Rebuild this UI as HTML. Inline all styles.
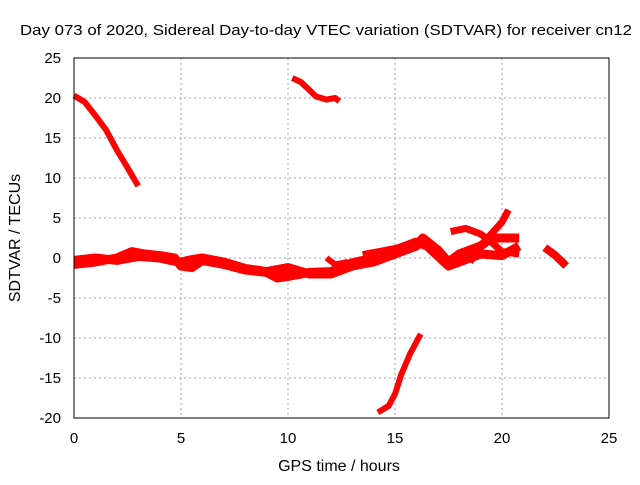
<!DOCTYPE html>
<html><head><meta charset="utf-8"><style>
body{margin:0;background:#fff}
svg{font-family:"Liberation Sans",sans-serif;font-size:15px}
</style></head><body>
<svg width="640" height="480" viewBox="0 0 640 480">
<rect width="640" height="480" fill="#fff"/>
<g id="grid"></g>
<g id="series"></g>
<rect x="74" y="58" width="535" height="360" fill="none" stroke="#000" stroke-width="1"/>
<g id="ticks"></g>
<text x="20" y="35" textLength="612" lengthAdjust="spacingAndGlyphs">Day 073 of 2020, Sidereal Day-to-day VTEC variation (SDTVAR) for receiver cn12</text>
<text x="339" y="471" text-anchor="middle" style="font-size:16px">GPS time / hours</text>
<text transform="translate(20,238) rotate(-90)" text-anchor="middle" style="font-size:16px">SDTVAR / TECUs</text>
</svg>
<script>
const xTicks=[0,5,10,15,20,25];
const yTicks=[25,20,15,10,5,0,-5,-10,-15,-20];
const trackA=[[0,20.3],[0.5,19.5],[1,17.8],[1.5,16],[2,13.5],[2.5,11.3],[3,9]];
const trackB=[[10.2,22.5],[10.6,22],[11,21],[11.3,20.2],[11.8,19.8],[12.2,20],[12.4,19.6]];
const trackC=[[14.2,-19.3],[14.7,-18.5],[15,-17],[15.3,-14.5],[15.7,-12],[16.2,-9.5]];
const band1=[[0,-0.8],[1,-0.5],[2,0],[2.7,0.8],[3.3,0.5],[4,0.3],[4.7,0],[5,-1],[5.5,-1.2],[6,-0.3],[7,-0.8],[8,-1.5],[9,-1.8],[9.5,-2.5],[10,-2.3],[11,-1.8],[12,-1.7],[13,-0.6],[14,0],[15,1],[16,2],[16.5,1.5],[17.5,-1],[18,-0.5],[19,0.5],[20,0.3],[20.8,1.5]];
const band2=[[0,-0.3],[1,0],[2,-0.3],[3,0.2],[4,0],[4.5,-0.3],[5,-0.5],[5.5,-0.2],[6,0],[7,-0.5],[8,-1.3],[9,-1.7],[10,-1.2],[11,-2],[12,-2],[13,-1],[14,-0.5],[15,0.5],[16,1.5],[16.3,2.5],[17,1],[17.5,-0.5],[18,0.5],[19,1.5],[19.5,2.5],[20.5,2.5],[20.8,2.5]];
const band3=[[13.5,0.3],[14.5,0.8],[15.5,1.3],[16,1.8]];
const trackD=[[11.8,0],[12.2,-0.8],[12.8,-0.5]];
const trackE=[[17.6,3.3],[18.3,3.7],[19,3],[19.5,2],[20,0.8],[20.8,0.5]];
const trackF=[[18.5,-0.5],[19,1.5],[19.5,3],[20,4.5],[20.3,6]];
const trackG=[[22,1.3],[22.5,0.3],[23,-1]];
const NS='http://www.w3.org/2000/svg';
const X=v=>74+v*535/25, Y=v=>258-v*8;
const grid=document.getElementById('grid'), ticks=document.getElementById('ticks'), ser=document.getElementById('series');
function mk(tag,a,p){const e=document.createElementNS(NS,tag);for(const k in a)e.setAttribute(k,a[k]);p.appendChild(e);return e;}
xTicks.forEach(t=>{
  const l=mk('line',{x1:X(t),x2:X(t),y1:58,y2:418,stroke:'#a0a0a0','stroke-dasharray':'2,3'},grid);
  
  
  const tx=mk('text',{x:X(t),y:443,'text-anchor':'middle'},ticks);tx.textContent=t;
  
  
});
yTicks.forEach(t=>{
  const l=mk('line',{x1:74,x2:609,y1:Y(t),y2:Y(t),stroke:'#a0a0a0','stroke-dasharray':'2,3'},grid);
  
  
  const tx=mk('text',{x:61,y:Y(t)+5,'text-anchor':'end'},ticks);tx.textContent=t;
  
  
});
[[trackA,6],[trackB,6],[trackC,6],[band1,9],[band2,9],[band3,9],[trackD,6],[trackE,7],[trackF,7],[trackG,8]].forEach(([tr,w])=>{
  const p=mk('polyline',{points:tr.map(d=>X(d[0])+','+Y(d[1])).join(' '),fill:'none',stroke:'#ff0000','stroke-width':w,'stroke-linejoin':'round'},ser);
  
  
});
</script>
</body></html>
